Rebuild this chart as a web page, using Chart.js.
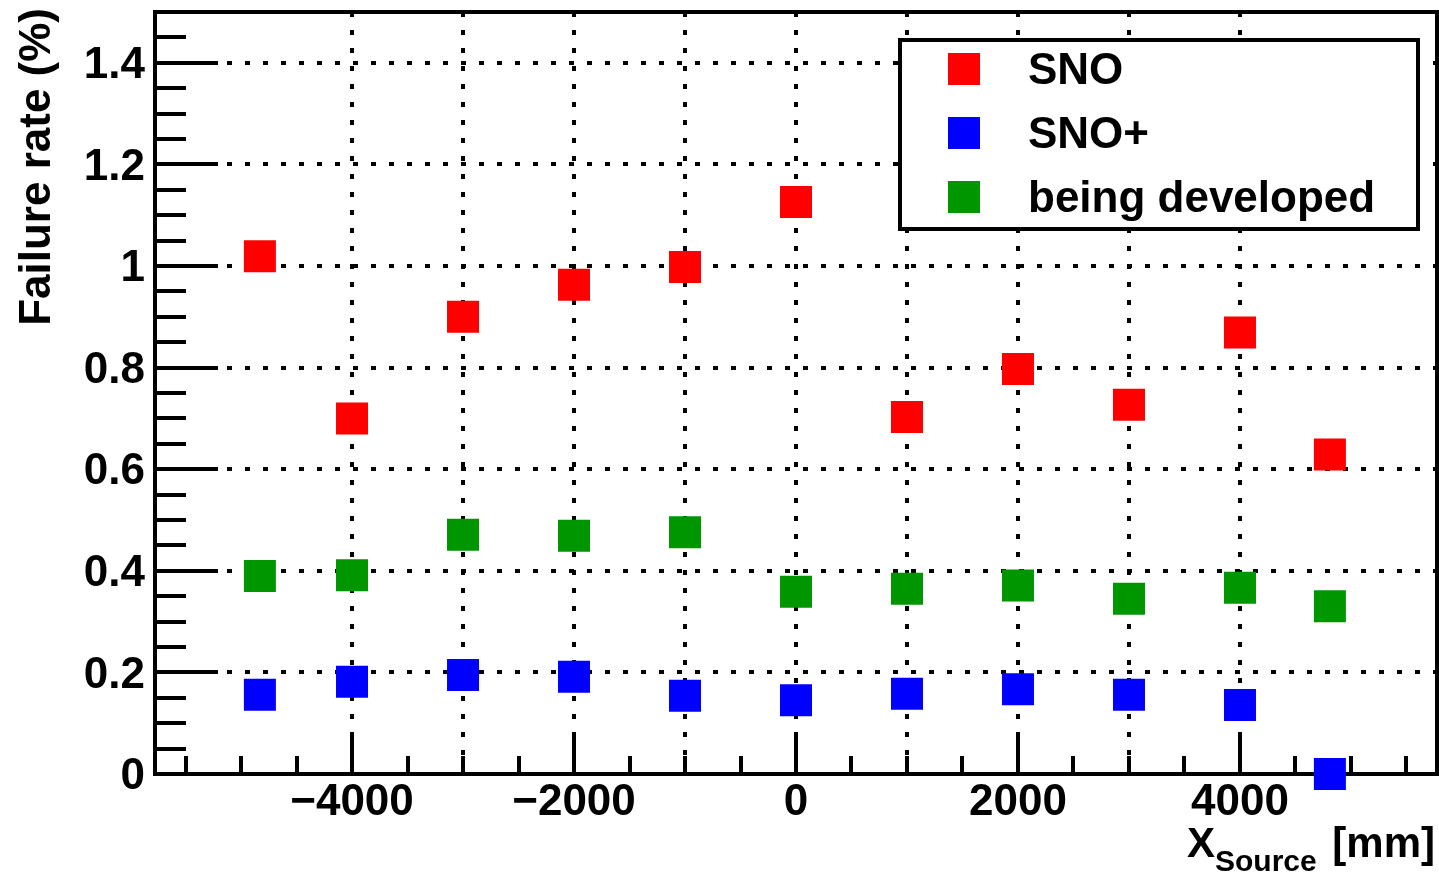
<!DOCTYPE html>
<html><head><meta charset="utf-8">
<script src="https://cdn.jsdelivr.net/npm/chart.js@4.4.1/dist/chart.umd.min.js"></script>
<style>html,body{margin:0;padding:0;background:#fff;overflow:hidden}#wrap{width:1439px;height:876px;position:relative}</style>
</head><body><div id="wrap"><canvas id="c"></canvas></div>
<script>
const xPositions = [-4830, -4000, -3000, -2000, -1000, 0, 1000, 2000, 3000, 4000, 4810];
const snoValues = [1.019, 0.700, 0.900, 0.963, 0.998, 1.126, 0.703, 0.797, 0.727, 0.869, 0.629];
const snoPlusValues = [0.156, 0.1815, 0.195, 0.1915, 0.154, 0.145, 0.158, 0.167, 0.156, 0.136, 0.000];
const developedValues = [0.390, 0.391, 0.471, 0.469, 0.476, 0.359, 0.3645, 0.371, 0.345, 0.3665, 0.330];
const seriesLabels = ['SNO', 'SNO+', 'being developed'];
const seriesColors = ['#ff0000', '#0000ff', '#009600'];
const yTickValues = [0, 0.2, 0.4, 0.6, 0.8, 1.0, 1.2, 1.4];
const yTickLabels = ['0', '0.2', '0.4', '0.6', '0.8', '1', '1.2', '1.4'];
const xTickValues = [-4000, -2000, 0, 2000, 4000];
const xTickLabels = ['\u22124000', '\u22122000', '0', '2000', '4000'];
const xGridValues = [-4000, -3000, -2000, -1000, 0, 1000, 2000, 3000, 4000];
const yTitle = 'Failure rate (%)';
const xTitleMain = 'X', xTitleSub = 'Source', xTitleUnit = ' [mm]';

const FONT = "'Liberation Sans', Arial, Helvetica, sans-serif";
const near = (a, b) => Math.abs(a - b) < 1e-6;
const isMult = (v, s) => Math.abs(v / s - Math.round(v / s)) < 1e-6;

function toPts(vals) { return xPositions.map((x, i) => ({ x: x, y: vals[i] })); }
function stepTicks(min, max, step) {
  const out = [];
  for (let k = Math.ceil(min / step - 1e-9); k * step <= max + 1e-9; k++) out.push({ value: Math.round(k * step * 1e6) / 1e6 });
  return out;
}

const datasets = [snoValues, snoPlusValues, developedValues].map((vals, i) => ({
  label: seriesLabels[i],
  data: toPts(vals),
  backgroundColor: seriesColors[i],
  borderWidth: 0,
  pointStyle: 'rect',
  pointRadius: 16 / Math.SQRT1_2,
  pointHoverRadius: 16 / Math.SQRT1_2,
  clip: false
}));

const rootPlugin = {
  id: 'rootStyle',
  beforeDatasetsDraw(chart) {
    const ctx = chart.ctx, a = chart.chartArea;
    const xs = chart.scales.x, ys = chart.scales.y;
    ctx.save();
    ctx.strokeStyle = '#000';
    ctx.lineWidth = 4;
    ctx.lineCap = 'butt';
    ys.ticks.forEach(t => {
      const v = t.value;
      if (!isMult(v, 0.05) || v <= 1e-6 || v >= ys.max - 1e-6) return;
      const len = isMult(v, 0.2) ? 63 : 31;
      const py = Math.round(ys.getPixelForValue(v));
      ctx.beginPath(); ctx.moveTo(a.left, py); ctx.lineTo(a.left + len, py); ctx.stroke();
    });
    xs.ticks.forEach(t => {
      const v = t.value;
      if (!isMult(v, 500)) return;
      const len = isMult(v, 2000) ? 37 : 18;
      const px = Math.round(xs.getPixelForValue(v));
      ctx.beginPath(); ctx.moveTo(px, a.bottom); ctx.lineTo(px, a.bottom - len); ctx.stroke();
    });
    ctx.strokeRect(a.left, a.top, a.right - a.left, a.bottom - a.top);
    ctx.restore();
  },
  afterDraw(chart) {
    const ctx = chart.ctx;
    ctx.save();
    const bx = 900, by = 40, bw = 518, bh = 189;
    ctx.fillStyle = '#fff';
    ctx.fillRect(bx, by, bw, bh);
    ctx.strokeStyle = '#000';
    ctx.lineWidth = 4;
    ctx.strokeRect(bx, by, bw, bh);
    ctx.font = 'bold 44px ' + FONT;
    ctx.textBaseline = 'middle';
    ctx.textAlign = 'left';
    chart.data.datasets.forEach((ds, i) => {
      const cy = 69 + i * 64;
      ctx.fillStyle = ds.backgroundColor;
      ctx.fillRect(964 - 16, cy - 16, 32, 32);
      ctx.fillStyle = '#000';
      ctx.fillText(ds.label, 1028, cy + 3);
    });
    ctx.save();
    ctx.translate(50, 8);
    ctx.rotate(-Math.PI / 2);
    ctx.textAlign = 'right';
    ctx.textBaseline = 'alphabetic';
    ctx.font = 'bold 44px ' + FONT;
    ctx.fillStyle = '#000';
    ctx.fillText(yTitle, 0, 0);
    ctx.restore();
    ctx.fillStyle = '#000';
    ctx.textBaseline = 'alphabetic';
    ctx.textAlign = 'right';
    let xr = 1435;
    ctx.font = 'bold 42px ' + FONT;
    ctx.fillText(xTitleUnit, xr, 857);
    xr -= ctx.measureText(xTitleUnit).width + 4;
    ctx.font = 'bold 30px ' + FONT;
    ctx.fillText(xTitleSub, xr, 871);
    xr -= ctx.measureText(xTitleSub).width;
    ctx.font = 'bold 42px ' + FONT;
    ctx.fillText(xTitleMain, xr, 857);
    ctx.restore();
  }
};

new Chart(document.getElementById('c'), {
  type: 'scatter',
  data: { datasets: datasets },
  options: {
    responsive: true,
    maintainAspectRatio: false,
    animation: false,
    events: [],
    layout: { autoPadding: false, padding: { left: 0, right: 2, top: 12, bottom: 0 } },
    plugins: { legend: { display: false }, tooltip: { enabled: false } },
    scales: {
      x: {
        type: 'linear', min: -5775, max: 5775,
        afterBuildTicks(s) { s.ticks = stepTicks(-5500, 5500, 500); },
        afterFit(s) { s.height = 102; s.paddingLeft = 0; s.paddingRight = 0; },
        border: { display: false, dash: [5, 13] },
        grid: {
          drawTicks: false,
          lineWidth: 4,
          color: c => (c.tick && xGridValues.some(g => near(g, c.tick.value))) ? '#000' : 'rgba(0,0,0,0)'
        },
        ticks: {
          autoSkip: false, maxRotation: 0, minRotation: 0, padding: 2,
          color: '#000',
          font: { family: FONT, size: 44, weight: 'bold' },
          callback: v => { const i = xTickValues.findIndex(t => near(t, v)); return i >= 0 ? xTickLabels[i] : ''; }
        }
      },
      y: {
        type: 'linear', min: 0, max: 1.5,
        afterBuildTicks(s) { s.ticks = stepTicks(0, 1.5, 0.05); },
        afterFit(s) { s.width = 155; s.paddingTop = 0; s.paddingBottom = 0; },
        border: { display: false, dash: [5, 13] },
        grid: {
          drawTicks: false,
          lineWidth: 4,
          color: c => (c.tick && c.tick.value > 1e-6 && yTickValues.some(g => near(g, c.tick.value))) ? '#000' : 'rgba(0,0,0,0)'
        },
        ticks: {
          autoSkip: false, padding: 10, labelOffset: 3,
          color: '#000',
          font: { family: FONT, size: 44, weight: 'bold' },
          callback: v => { const i = yTickValues.findIndex(t => near(t, v)); return i >= 0 ? yTickLabels[i] : ''; }
        }
      }
    }
  },
  plugins: [rootPlugin]
});
</script></body></html>
